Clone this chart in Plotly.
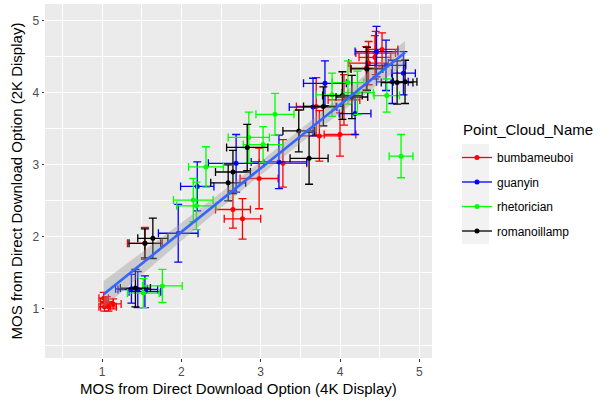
import numpy as np
import plotly.graph_objects as go

# ---- data ----
red_x  = [1.02, 1.08, 1.14, 1.03, 1.06, 1.54, 2.65, 2.77, 2.98, 3.28, 3.74, 4.00, 3.70, 4.36, 4.44, 4.53, 4.45, 4.33, 4.05]
red_y  = [1.15, 1.03, 1.07, 1.03, 1.10, 1.91, 2.38, 2.25, 2.81, 3.02, 3.40, 3.42, 3.81, 4.41, 4.49, 4.60, 4.55, 4.34, 3.90]
red_ex = [0.06, 0.10, 0.10, 0.07, 0.08, 0.22, 0.22, 0.23, 0.24, 0.30, 0.25, 0.20, 0.25, 0.25, 0.20, 0.20, 0.25, 0.20, 0.20]
red_ey = [0.08, 0.06, 0.07, 0.06, 0.07, 0.22, 0.26, 0.28, 0.42, 0.33, 0.35, 0.30, 0.40, 0.30, 0.30, 0.23, 0.30, 0.30, 0.35]

blue_x  = [1.37, 1.54, 1.45, 1.96, 2.20, 2.69, 3.23, 3.66, 3.81, 4.19, 4.66, 4.80, 4.58, 4.46]
blue_y  = [1.28, 1.24, 1.27, 2.05, 2.70, 3.02, 3.04, 3.80, 4.13, 3.71, 4.15, 4.27, 4.38, 4.57]
blue_ex = [0.20, 0.20, 0.25, 0.25, 0.21, 0.35, 0.35, 0.30, 0.27, 0.20, 0.20, 0.15, 0.25, 0.27]
blue_ey = [0.20, 0.22, 0.25, 0.40, 0.34, 0.40, 0.37, 0.40, 0.31, 0.29, 0.30, 0.30, 0.35, 0.35]

green_x  = [1.52, 1.76, 2.15, 2.19, 2.31, 2.85, 3.03, 3.18, 4.77, 4.10, 4.59, 4.22, 3.90]
green_y  = [1.22, 1.32, 2.51, 2.43, 2.97, 3.38, 3.28, 3.70, 3.12, 4.14, 3.96, 4.00, 3.97]
green_ex = [0.20, 0.25, 0.25, 0.25, 0.22, 0.26, 0.25, 0.24, 0.15, 0.20, 0.16, 0.20, 0.20]
green_ey = [0.20, 0.23, 0.30, 0.33, 0.28, 0.35, 0.25, 0.29, 0.30, 0.30, 0.23, 0.30, 0.30]

black_x  = [1.42, 1.54, 1.64, 2.59, 2.65, 2.83, 3.48, 3.61, 3.79, 4.03, 4.15, 4.72, 4.82, 4.34]
black_y  = [1.29, 1.91, 1.98, 2.75, 2.90, 3.24, 3.47, 3.09, 3.81, 3.96, 3.94, 4.14, 4.15, 4.33]
black_ex = [0.19, 0.20, 0.19, 0.22, 0.22, 0.26, 0.20, 0.24, 0.25, 0.25, 0.20, 0.20, 0.15, 0.20]
black_ey = [0.26, 0.20, 0.28, 0.25, 0.30, 0.32, 0.29, 0.36, 0.27, 0.33, 0.30, 0.30, 0.30, 0.30]

series_names = ["bumbameuboi", "guanyin", "rhetorician", "romanoillamp"]
series_colors = ["#FF0000", "#0000FF", "#00FF00", "#000000"]
series = [
    (red_x, red_y, red_ex, red_ey),
    (blue_x, blue_y, blue_ex, blue_ey),
    (green_x, green_y, green_ex, green_ey),
    (black_x, black_y, black_ex, black_ey),
]

x_ticks = [1, 2, 3, 4, 5]
y_ticks = [1, 2, 3, 4, 5]

fig = go.Figure()

for name, col, (xs, ys, exs, eys) in zip(series_names, series_colors, series):
    fig.add_trace(go.Scatter(
        x=xs, y=ys, mode="markers", name=name, showlegend=False,
        marker=dict(color=col, size=5),
        error_x=dict(type="data", array=exs, color=col, thickness=1.3, width=4),
        error_y=dict(type="data", array=eys, color=col, thickness=1.3, width=4),
    ))

# ---- linear fit with 95% confidence band (geom_smooth(method="lm")) ----
all_x = np.array(red_x + blue_x + green_x + black_x)
all_y = np.array(red_y + blue_y + green_y + black_y)
n = len(all_x)
b, a = np.polyfit(all_x, all_y, 1)
resid = all_y - (a + b * all_x)
s = np.sqrt(np.sum(resid ** 2) / (n - 2))
xbar = all_x.mean()
sxx = np.sum((all_x - xbar) ** 2)
xg = np.linspace(all_x.min(), all_x.max(), 80)
yg = a + b * xg
se = s * np.sqrt(1.0 / n + (xg - xbar) ** 2 / sxx)
t = 1.99
fig.add_trace(go.Scatter(
    x=np.concatenate([xg, xg[::-1]]),
    y=np.concatenate([yg + t * se, (yg - t * se)[::-1]]),
    fill="toself", fillcolor="rgba(153,153,153,0.4)", line=dict(width=0),
    mode="lines", showlegend=False, hoverinfo="skip",
))
fig.add_trace(go.Scatter(x=xg, y=yg, mode="lines", line=dict(color="#3366FF", width=2.6),
                         showlegend=False))

# legend entries
for name, col in zip(series_names, series_colors):
    fig.add_trace(go.Scatter(x=[None], y=[None], mode="lines+markers", name=name,
                             legendgroup=name,
                             line=dict(color=col, width=1.3), marker=dict(color=col, size=5)))

L, R, T, B = 45, 175, 4, 42
pw = 607 - L - R
ph = 400 - T - B

def px2paper_x(px):
    return (px - L) / pw

def px2paper_y(py):
    return 1 - (py - T) / ph

fig.add_shape(type="rect", xref="paper", yref="paper",
              x0=px2paper_x(462), x1=px2paper_x(489), y0=px2paper_y(244), y1=px2paper_y(144),
              fillcolor="#F2F2F2", line=dict(width=0), layer="below")

fig.add_annotation(text="Point_Cloud_Name", xref="paper", yref="paper",
                   x=px2paper_x(461), y=px2paper_y(130), xanchor="left", yanchor="middle",
                   showarrow=False, font=dict(family="Liberation Sans, Arial", size=15, color="black"))

# x-axis title placed as in the reference
fig.add_annotation(text="MOS from Direct Download Option (4K Display)", xref="paper", yref="paper",
                   x=0.5, y=px2paper_y(388.5), xanchor="center", yanchor="middle",
                   showarrow=False, font=dict(family="Liberation Sans, Arial", size=15, color="black"))

axis_common = dict(
    showgrid=True, gridcolor="white", gridwidth=1.1, zeroline=False,
    ticks="outside", ticklen=2.5, tickwidth=1.1, tickcolor="#333333",
    tickfont=dict(family="Liberation Sans, Arial", size=12, color="#4D4D4D"),
    minor=dict(dtick=0.5, tick0=0.5, showgrid=True, gridcolor="white", gridwidth=0.5, ticks=""),
    showline=False, automargin=False,
)

fig.update_layout(
    width=607, height=400,
    margin=dict(l=L, r=R, t=T, b=B),
    paper_bgcolor="white", plot_bgcolor="#EBEBEB",
    font=dict(family="Liberation Sans, Arial", color="black"),
    xaxis=dict(range=[0.28, 5.16], tickvals=x_ticks, ticktext=[str(v) for v in x_ticks],
               **axis_common),
    yaxis=dict(range=[0.32, 5.23], tickvals=y_ticks, ticktext=[str(v) for v in y_ticks],
               title=dict(text="MOS from Direct Download Option (2K Display)",
                          font=dict(size=15, color="black"), standoff=6),
               **axis_common),
    legend=dict(x=px2paper_x(457), y=px2paper_y(143), xanchor="left", yanchor="top",
                font=dict(size=12), bgcolor="rgba(0,0,0,0)", tracegroupgap=5.5,
                itemwidth=30),
    showlegend=True,
)

fig.write_html("out.html", config={"displayModeBar": False},
               post_script="document.body.style.margin='0';")
